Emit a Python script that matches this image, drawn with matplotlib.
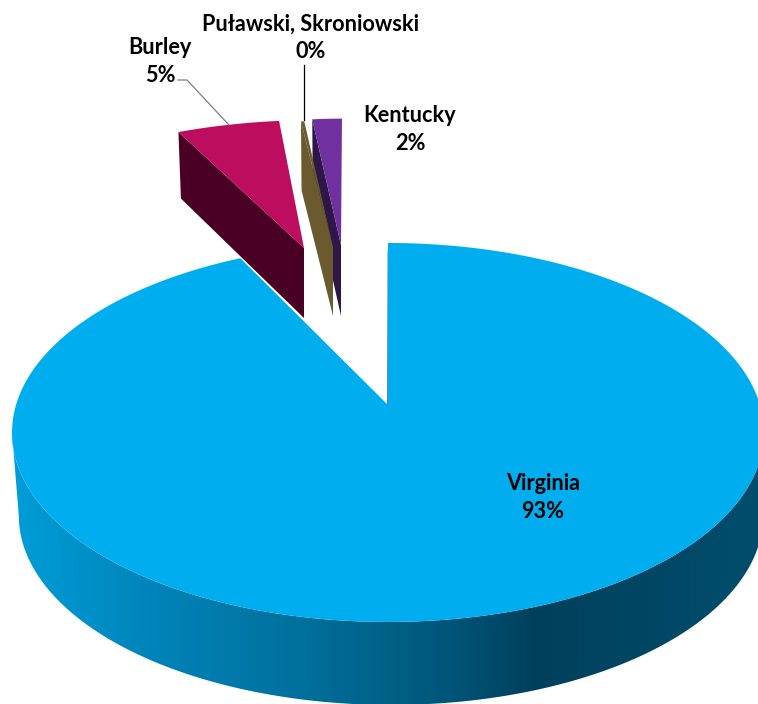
import numpy as np
import matplotlib
matplotlib.use("Agg")
import matplotlib.pyplot as plt
from matplotlib.patches import Polygon

# ---- data ----
categories = ["Virginia", "Burley", "Puławski, Skroniowski", "Kentucky"]
values = [92.6, 5.4, 0.2, 1.8]
top_colors = ["#00AEEF", "#BC0D5E", "#6B5A2D", "#7030A0"]
wall_colors = ["#00506F", "#4A0025", "#6B5A2D", "#2E1648"]

# ---- layout of the projected pie (pixel space) ----
A, B, K = 372.0, 185.5, 0.145
# apex x, apex y, x scale, shear, y scale, depth, bottom-ring x factor, bottom-ring y factor
slices = {
    "Virginia": (388, 405, 1.0, 0.0, 1.0, 83, 0.99, 1.0),
    "Burley": (304, 248, 0.931, 0.081, 0.79, 70, 0.98, 1.03),
    "Puławski, Skroniowski": (333, 247, 0.81, 0.006, 0.78, 69, 0.98, 1.0),
    "Kentucky": (341, 245, 0.81, 0.006, 0.78, 71, 0.98, 1.0),
}
label_pos = {
    "Virginia": (543, 482),
    "Burley": (160, 46),
    "Puławski, Skroniowski": (311, 23),
    "Kentucky": (410, 115),
}
side_x = [10, 150, 300, 450, 535, 760]
side_rgb = [(0, 158, 216), (0, 132, 186), (0, 112, 156), (0, 85, 120), (0, 64, 92), (0, 78, 108)]


def proj(theta):
    u, v = np.sin(theta), np.cos(theta)
    d = 1 + K * v
    return A * u / d, B * v / d


def place(name, theta, bottom=False):
    ax_, ay_, sx, sh, sy, depth, bx, by = slices[name]
    X, Y = proj(theta)
    x, y = sx * X + sh * Y, -sy * Y
    if bottom:
        shift = 3 if name == "Virginia" else 0
        return ax_ + shift + bx * x, ay_ + depth + by * y
    return ax_ + x, ay_ + y


fig = plt.figure(figsize=(7.58, 7.04), dpi=100)
ax = fig.add_axes([0, 0, 1, 1])
ax.axis("off")

fractions = np.array(values) / sum(values)
starts = 2 * np.pi * np.concatenate([[0], np.cumsum(fractions)[:-1]])
ends = 2 * np.pi * np.cumsum(fractions)
span = {c: (s, e) for c, s, e in zip(categories, starts, ends)}


def wedge_top(name, n=200):
    s, e = span[name]
    t = np.linspace(s, e, n)
    xs, ys = place(name, t)
    ap = slices[name][:2]
    return np.vstack([[ap], np.column_stack([xs, ys])])


def side_wall(name):
    s = span[name][0]
    ap = slices[name]
    pts = [place(name, s), place(name, s, True), (ap[0], ap[1] + ap[5]), (ap[0], ap[1])]
    return np.array(pts)


# exploded slices, behind the main one
order = ["Burley", "Kentucky", "Puławski, Skroniowski"]
for name in order:
    i = categories.index(name)
    ax.add_patch(Polygon(side_wall(name), closed=True, fc=wall_colors[i], ec="none", zorder=2))
    ax.add_patch(Polygon(wedge_top(name), closed=True, fc=top_colors[i], ec="none", zorder=2.1))

# outer wall of the main slice: a horizontal gradient clipped to the wall outline,
# running between the two points where the projected rim is widest
t_side = np.arccos(-K)
t = np.linspace(t_side, 2 * np.pi - t_side, 441)
xt, yt = place("Virginia", t)
xb, yb = place("Virginia", t, True)
outline = np.vstack([np.column_stack([xt, yt]), np.column_stack([xb, yb])[::-1]])
rgb = np.array(side_rgb, dtype=float) / 255
grid = np.arange(0, 760)
strip = np.stack([np.interp(grid, side_x, rgb[:, c]) for c in range(3)], axis=-1)[None, :, :]
im = ax.imshow(strip, extent=(0, 760, 704, 0), aspect="auto", zorder=3, interpolation="bilinear")
clip = Polygon(outline, closed=True, transform=ax.transData, fc="none", ec="none")
ax.add_patch(clip)
im.set_clip_path(clip)

ax.set_xlim(0, 758)
ax.set_ylim(704, 0)

# main slice top
ax.add_patch(Polygon(wedge_top("Virginia", 600), closed=True, fc=top_colors[0], ec="none", zorder=4))
# thin inner wall seen almost edge-on
x0, y0 = place("Virginia", 0.0)
ax.plot([x0 + 0.4, slices["Virginia"][0]], [y0 + 8, slices["Virginia"][1]],
        color="#00506F", lw=1.0, zorder=3.9)

# leader lines
ax.plot([178, 187, 229], [80, 80, 125], color="#7F7F7F", lw=0.9, zorder=5)
ax.plot([304, 304], [65, 120], color="#000000", lw=0.9, zorder=5)

# labels
for name, v in zip(categories, values):
    x, y = label_pos[name]
    fs = 15.6
    ax.text(x, y + 1, name, ha="center", va="center", family="Lato", weight="bold",
            fontsize=fs, color="black", zorder=6)
    ax.text(x, y + 29, f"{round(v)}%", ha="center", va="center", family="Lato", weight="bold",
            fontsize=fs, color="black", zorder=6)

fig.savefig("out.png", dpi=100, facecolor="white")
